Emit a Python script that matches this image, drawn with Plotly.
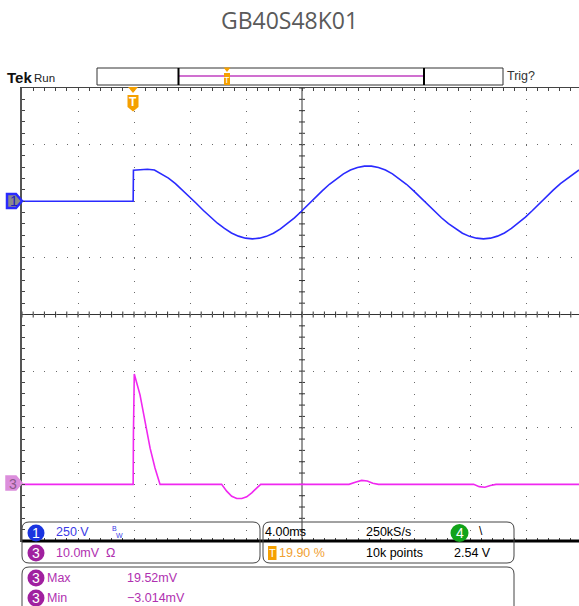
import plotly.graph_objects as go

# ---------------- data ----------------
# time in ms relative to trigger; screen spans 4.00 ms/div
ch1_t = [-7.96, -6.0, -4.0, -2.0, -0.02, 0.0, 0.5, 1.0, 1.5,
         2.0, 2.5, 3.0, 3.5, 4.0, 4.5, 5.0, 5.5, 6.0, 6.5, 7.0, 7.5, 8.0, 8.5, 9.0, 9.5,
         10.0, 10.5, 11.0, 11.5, 12.0, 12.5, 13.0, 13.5, 14.0, 14.5, 15.0, 15.5, 16.0, 16.5,
         17.0, 17.5, 18.0, 18.5, 19.0, 19.5, 20.0, 20.5, 21.0, 21.5, 22.0, 22.5, 23.0, 23.5,
         24.0, 24.5, 25.0, 25.5, 26.0, 26.5, 27.0, 27.5, 28.0, 28.5, 29.0, 29.5, 30.0, 30.5,
         31.0, 31.5, 31.83]
ch1_v = [0, 0, 0, 0, 0, 137, 140, 141, 138,
         120, 102, 78, 50, 20, -10, -41, -70, -97, -120, -140, -154, -163, -166, -163, -155,
         -141, -122, -99, -73, -44, -13, 17, 47, 75, 100, 121, 138, 149, 155,
         155, 149, 138, 121, 100, 75, 47, 17, -13, -44, -73, -99, -122, -141,
         -155, -163, -166, -163, -154, -140, -120, -97, -70, -41, -10, 20, 50, 78,
         102, 123, 138]

ch3_t = [-7.96, -4.0, -0.02, 0.0, 0.06, 0.47, 0.83, 1.19, 1.54, 1.9, 4.0, 6.3, 6.66, 7.02,
         7.38, 7.74, 8.09, 8.45, 8.8, 9.09, 12.0, 15.4, 15.9, 16.3, 16.7, 17.1, 17.5, 21.0,
         24.3, 24.7, 25.1, 25.5, 25.9, 29.0, 31.83]
ch3_mv = [0, 0, 0, 9, 19.5, 15.8, 11.1, 6.4, 2.9, 0, 0, 0, -1.2, -2.1,
          -2.5, -2.5, -2.2, -1.5, -0.65, 0, 0, 0, 0.4, 0.7, 0.6, 0.2, 0, 0,
          0, -0.4, -0.5, -0.2, 0, 0, 0]

title_text = "GB40S48K01"
ch1_scale_txt = "250 V"
ch3_scale_txt = "10.0mV"
time_div_txt = "4.00ms"
rate_txt = "250kS/s"
trig_pos_txt = "19.90 %"
points_txt = "10k points"
trig_lvl_txt = "2.54 V"
max_txt = "19.52mV"
min_txt = "\u22123.014mV"

# ---------------- geometry ----------------
W, H = 579, 606
PL, PT, PW, PH = 22, 88, 557, 453
X0 = -7.96
X1 = X0 + PW * 4.0 / 56.0
XC = X0 + 20.0

def px(x):
    return (x - PL) / PW

def py(y):
    return (PT + PH - y) / PH

FONT = "Liberation Sans, Arial, sans-serif"
BLUE = "#2a2aff"
MAG = "#f028f0"
PURP = "#a0209f"
ORANGE = "#f5a000"
GRID = "#6a6a6a"

fig = go.Figure()
fig.add_trace(go.Scatter(x=ch1_t, y=ch1_v, mode="lines", yaxis="y",
                         line=dict(color=BLUE, width=1.6), hoverinfo="skip", showlegend=False))
fig.add_trace(go.Scatter(x=ch3_t, y=ch3_mv, mode="lines", yaxis="y2",
                         line=dict(color=MAG, width=1.6), hoverinfo="skip", showlegend=False))

shapes = []
ann = []

# centre cross lines
shapes.append(dict(type="line", xref="x", yref="paper", x0=XC, x1=XC, y0=0, y1=1,
                   line=dict(color="#333", width=1), layer="below"))
shapes.append(dict(type="line", xref="paper", yref="y", x0=0, x1=1, y0=-500, y1=-500,
                   line=dict(color="#333", width=1), layer="below"))
# centre-line tick marks (1/5 division)
for k in range(50):
    t = X0 + 0.8 * k
    shapes.append(dict(type="line", xref="x", yref="paper", ysizemode="pixel", yanchor=0.5,
                       x0=t, x1=t, y0=-3, y1=3, line=dict(color="#333", width=1), layer="below"))
for k in range(41):
    v = -1500 + 50 * k
    shapes.append(dict(type="line", xref="x", yref="y", xsizemode="pixel", xanchor=XC,
                       x0=-3, x1=3, y0=v, y1=v, line=dict(color="#333", width=1), layer="below"))

# thick bottom line
shapes.append(dict(type="line", xref="paper", yref="paper", x0=px(22), x1=px(579),
                   y0=py(541), y1=py(541), line=dict(color="black", width=3)))

def rrect(x0, y0, x1, y1, r):
    rx, ry = r / PW, r / PH
    a, b, c, d = px(x0), px(x1), py(y0), py(y1)  # c top, d bottom
    return (f"M{a+rx},{c} L{b-rx},{c} Q{b},{c} {b},{c-ry} L{b},{d+ry} Q{b},{d} {b-rx},{d} "
            f"L{a+rx},{d} Q{a},{d} {a},{d+ry} L{a},{c-ry} Q{a},{c} {a+rx},{c} Z")

for (x0, y0, x1, y1) in [(22, 522, 260, 563), (263, 522, 514, 563), (22, 567, 514, 615)]:
    shapes.append(dict(type="path", xref="paper", yref="paper", path=rrect(x0, y0, x1, y1, 7),
                       line=dict(color="#444", width=1)))

def circ(cx, cy, r, color, label):
    shapes.append(dict(type="circle", xref="paper", yref="paper",
                       x0=px(cx - r), x1=px(cx + r), y0=py(cy + r), y1=py(cy - r),
                       fillcolor=color, line=dict(color=color, width=0)))
    ann.append(dict(xref="paper", yref="paper", x=px(cx), y=py(cy), text=label, showarrow=False,
                    xanchor="center", yanchor="middle",
                    font=dict(family=FONT, size=14, color="white")))

def txt(x, y, s, color="black", size=12, anchor="left", family=FONT):
    ann.append(dict(xref="paper", yref="paper", x=px(x), y=py(y), text=s, showarrow=False,
                    xanchor=anchor, yanchor="middle", borderpad=0,
                    font=dict(family=family, size=size, color=color)))

# readouts
circ(36, 533, 8.5, "#1a34e0", "1")
txt(55, 532, ch1_scale_txt, "#3a3ae6", size=12.5)
txt(111, 528, "B", "#3a3ae6", size=7)
txt(115, 535, "W", "#3a3ae6", size=7)
circ(36, 553, 8.5, PURP, "3")
txt(55, 553, ch3_scale_txt, "#b030b0", size=12.5)
txt(105, 553, "\u03a9", "#b030b0", size=12.5)

txt(264, 532, time_div_txt, size=12.5)
txt(365, 532, rate_txt, size=12.5)
circ(459.5, 533, 9, "#12a31a", "4")
txt(478, 531, "\\", "black")
shapes.append(dict(type="rect", xref="paper", yref="paper", x0=px(268), x1=px(276.5),
                   y0=py(560), y1=py(546), fillcolor=ORANGE, line=dict(color=ORANGE, width=0)))
txt(272.2, 553, "T", "white", size=11, anchor="center")
txt(278, 553, trig_pos_txt, "#f0a030", size=12.5)
txt(365, 553, points_txt, size=12.5)
txt(453, 553, trig_lvl_txt, size=12.5)

circ(36, 578, 8.5, PURP, "3")
txt(46, 578, "Max", "#b030b0", size=12.5)
txt(126, 578, max_txt, "#b030b0", size=12.5)
circ(36, 598, 8.5, PURP, "3")
txt(46, 598, "Min", "#b030b0", size=12.5)
txt(126, 598, min_txt, "#b030b0", size=12.5)

# top status bar
ann.append(dict(xref="paper", yref="paper", x=px(6), y=py(77), text="<b>Tek</b>", showarrow=False,
                xanchor="left", yanchor="middle", borderpad=0,
                font=dict(family=FONT, size=15, color="#111")))
txt(33, 78, "Run", "#222", size=11.5)
txt(506, 76, "Trig?", "#333", size=12.5)
shapes.append(dict(type="rect", xref="paper", yref="paper", x0=px(97), x1=px(503),
                   y0=py(85), y1=py(68), line=dict(color="#333", width=1), fillcolor="white"))
shapes.append(dict(type="line", xref="paper", yref="paper", x0=px(179), x1=px(424),
                   y0=py(76), y1=py(76), line=dict(color="#c040c0", width=1.5)))
for xb in (178.5, 424):
    shapes.append(dict(type="line", xref="paper", yref="paper", x0=px(xb), x1=px(xb),
                       y0=py(85), y1=py(68), line=dict(color="black", width=2)))
# record-bar trigger marker
shapes.append(dict(type="path", xref="paper", yref="paper",
                   path=f"M{px(223.5)},{py(67.5)} L{px(230.5)},{py(67.5)} L{px(227)},{py(72)} Z",
                   fillcolor=ORANGE, line=dict(color=ORANGE, width=0)))
shapes.append(dict(type="rect", xref="paper", yref="paper", x0=px(224), x1=px(230),
                   y0=py(85), y1=py(73), fillcolor=ORANGE, line=dict(color=ORANGE, width=0)))
txt(227, 79.5, "T", "white", size=9, anchor="center")

# main trigger position marker
shapes.append(dict(type="path", xref="paper", yref="paper",
                   path=f"M{px(128)},{py(87)} L{px(138)},{py(87)} L{px(133)},{py(93)} Z",
                   fillcolor=ORANGE, line=dict(color=ORANGE, width=0)))
shapes.append(dict(type="path", xref="paper", yref="paper",
                   path=(f"M{px(127.5)},{py(95)} L{px(138.5)},{py(95)} L{px(138.5)},{py(107)} "
                         f"L{px(133)},{py(111.5)} L{px(127.5)},{py(107)} Z"),
                   fillcolor=ORANGE, line=dict(color=ORANGE, width=0)))
txt(133, 102, "<b>T</b>", "white", size=12, anchor="center")

# channel ground markers
shapes.append(dict(type="path", xref="paper", yref="paper",
                   path=(f"M{px(7)},{py(194)} L{px(16)},{py(194)} L{px(22)},{py(201)} "
                         f"L{px(16)},{py(208)} L{px(7)},{py(208)} Z"),
                   fillcolor="#8a8a8a", line=dict(color=BLUE, width=2.5)))
txt(13.5, 201.5, "1", "#2020c0", size=14, anchor="center")
shapes.append(dict(type="path", xref="paper", yref="paper",
                   path=(f"M{px(6)},{py(476)} L{px(16)},{py(476)} L{px(22)},{py(483)} "
                         f"L{px(16)},{py(490)} L{px(6)},{py(490)} Z"),
                   fillcolor="#dc8edc", line=dict(color="#dc8edc", width=1.5)))
txt(13, 483.5, "3", "#8a5a8a", size=14, anchor="center")

fig.update_layout(
    width=W, height=H,
    margin=dict(l=PL, r=W - PL - PW, t=PT, b=H - PT - PH, pad=0),
    paper_bgcolor="white", plot_bgcolor="white",
    title=dict(text=title_text, x=0.5, xref="container", xanchor="center", y=1 - 21 / H,
               yref="container", yanchor="middle",
               font=dict(family="Open Sans, sans-serif", size=23, color="#5a5a5a")),
    xaxis=dict(range=[X0, X1], tick0=X0, dtick=4, showgrid=True, gridcolor=GRID, gridwidth=1,
               griddash="1px,10.325px", zeroline=False, showline=True, linecolor="#444", linewidth=1,
               mirror="ticks", ticks="inside", ticklen=3, tickcolor="#444", showticklabels=False,
               minor=dict(tick0=X0, dtick=0.8, ticks="inside", ticklen=3, tickcolor="#444", showgrid=False),
               fixedrange=True),
    yaxis=dict(range=[-1500, 500], tick0=0, dtick=250, showgrid=True, gridcolor=GRID, gridwidth=1,
               griddash="1px,10.2px", zeroline=False, showline=True, linecolor="#555", linewidth=1.5,
               mirror=False, ticks="inside", ticklen=3, tickcolor="#444", showticklabels=False,
               minor=dict(tick0=0, dtick=50, ticks="inside", ticklen=3, tickcolor="#444", showgrid=False),
               fixedrange=True),
    yaxis2=dict(range=[-10, 70], overlaying="y", showgrid=False, zeroline=False, showline=False,
                showticklabels=False, ticks="", fixedrange=True),
    shapes=shapes, annotations=ann, showlegend=False,
)

fig.write_html("out.html", config={"displayModeBar": False},
               post_script="document.body.style.margin='0px';")
